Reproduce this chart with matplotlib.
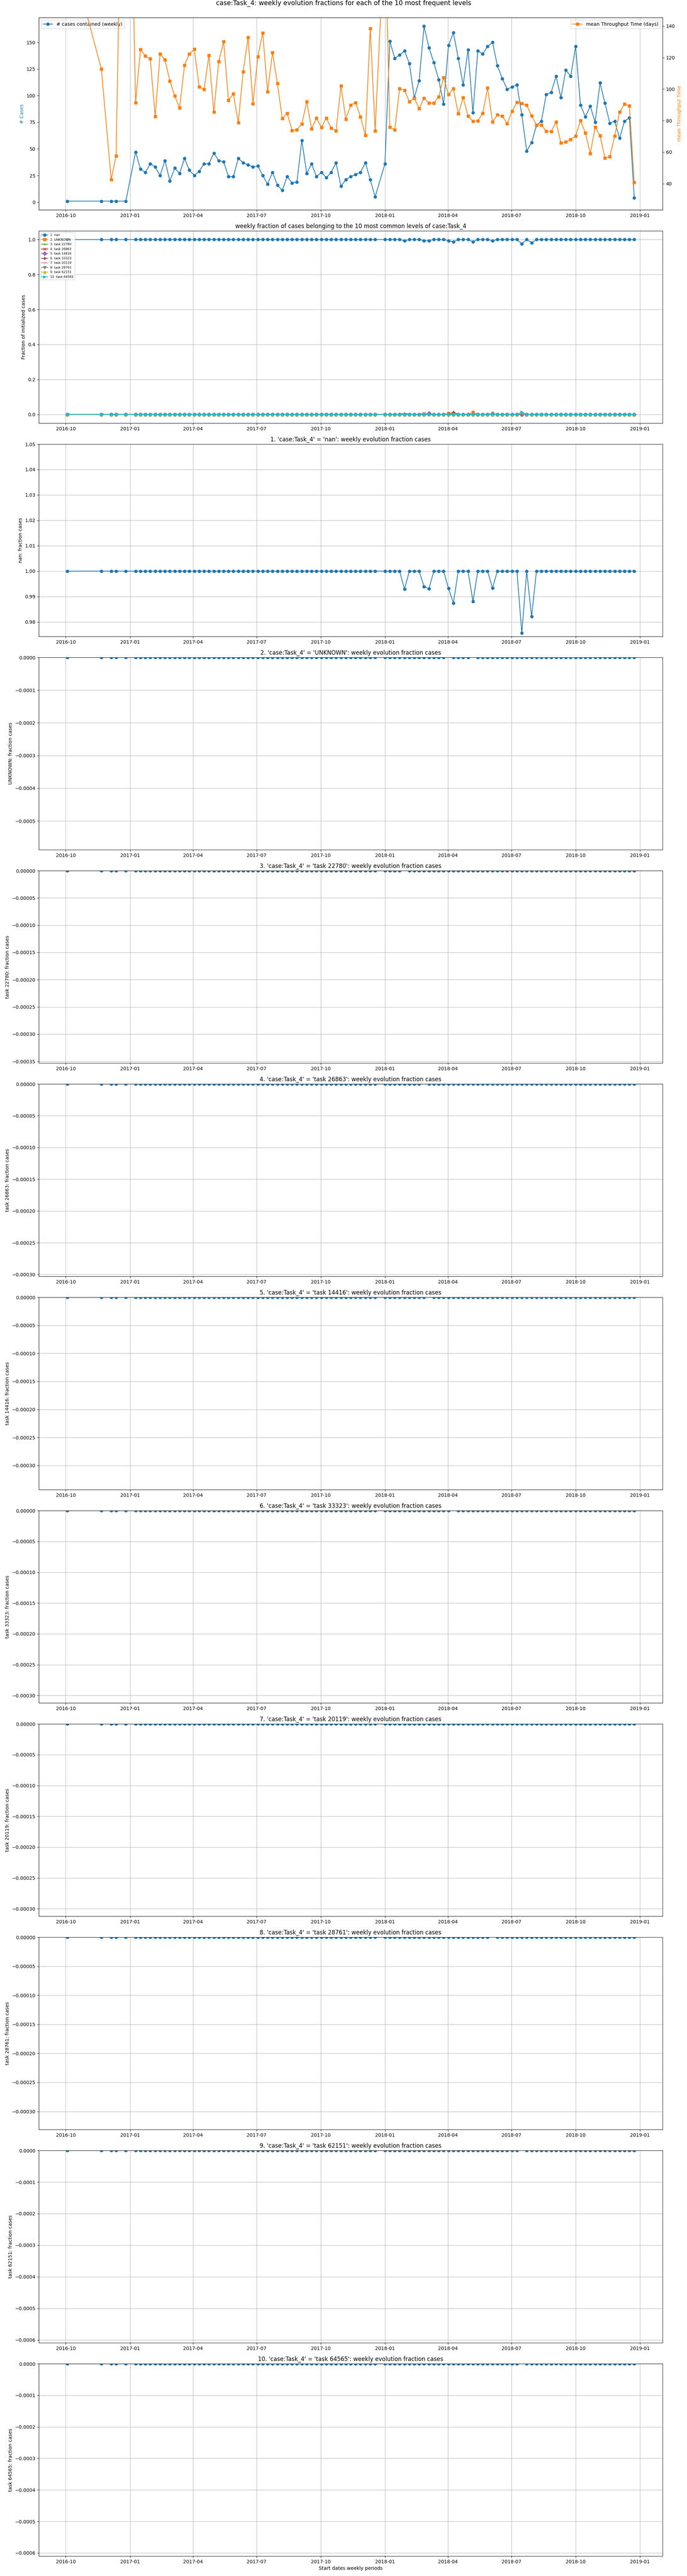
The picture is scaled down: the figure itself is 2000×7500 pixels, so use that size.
import matplotlib
matplotlib.use("Agg")
import matplotlib.pyplot as plt
import matplotlib.dates as mdates
import pandas as pd
import numpy as np

# ---------------- data ----------------
week_start = [
    "2016-10-03", "2016-11-21", "2016-12-05", "2016-12-12", "2016-12-26",
    "2017-01-09", "2017-01-16", "2017-01-23", "2017-01-30", "2017-02-06", "2017-02-13",
    "2017-02-20", "2017-02-27", "2017-03-06", "2017-03-13", "2017-03-20", "2017-03-27",
    "2017-04-03", "2017-04-10", "2017-04-17", "2017-04-24", "2017-05-01", "2017-05-08",
    "2017-05-15", "2017-05-22", "2017-05-29", "2017-06-05", "2017-06-12", "2017-06-19",
    "2017-06-26", "2017-07-03", "2017-07-10", "2017-07-17", "2017-07-24", "2017-07-31",
    "2017-08-07", "2017-08-14", "2017-08-21", "2017-08-28", "2017-09-04", "2017-09-11",
    "2017-09-18", "2017-09-25", "2017-10-02", "2017-10-09", "2017-10-16", "2017-10-23",
    "2017-10-30", "2017-11-06", "2017-11-13", "2017-11-20", "2017-11-27", "2017-12-04",
    "2017-12-11", "2017-12-18",
    "2018-01-01", "2018-01-08", "2018-01-15", "2018-01-22", "2018-01-29", "2018-02-05",
    "2018-02-12", "2018-02-19", "2018-02-26", "2018-03-05", "2018-03-12", "2018-03-19",
    "2018-03-26", "2018-04-02", "2018-04-09", "2018-04-16", "2018-04-23", "2018-04-30",
    "2018-05-07", "2018-05-14", "2018-05-21", "2018-05-28", "2018-06-04", "2018-06-11",
    "2018-06-18", "2018-06-25", "2018-07-02", "2018-07-09", "2018-07-16", "2018-07-23",
    "2018-07-30", "2018-08-06", "2018-08-13", "2018-08-20", "2018-08-27", "2018-09-03",
    "2018-09-10", "2018-09-17", "2018-09-24", "2018-10-01", "2018-10-08", "2018-10-15",
    "2018-10-22", "2018-10-29", "2018-11-05", "2018-11-12", "2018-11-19", "2018-11-26",
    "2018-12-03", "2018-12-10", "2018-12-17", "2018-12-24",
]

cases_weekly = [
    1, 1, 1, 1, 1,
    47, 31, 28, 36, 33, 25, 39, 20, 32, 27,
    41, 30, 25, 29, 36, 36, 46, 39, 38, 24,
    24, 41, 37, 35, 33, 34, 25, 17, 28, 16,
    11, 24, 18, 19, 58, 27, 36, 24, 28, 23,
    28, 37, 15, 21, 24, 26, 28, 37, 21, 5,
    36,
    151, 135, 138, 142, 130, 98, 114, 165, 145, 131,
    115, 92, 147, 159, 135, 110, 143, 84, 142, 139,
    146, 150, 128, 116, 106, 108, 110, 82, 48, 56,
    72, 76, 101, 103, 118, 98, 124, 118, 146, 91,
    80, 90, 75, 112, 93, 74, 76, 60, 76, 79,
    4,
]

mean_tt_days = [
    194, 112.7, 42.6, 57.5, 390,
    91.4, 125.1, 121.0, 119.2, 82.6, 122.3, 118.7, 105.2, 95.7, 88.1,
    115.1, 122.3, 125.3, 101.4, 99.8, 121.4, 85.4, 117.6, 130.1, 92.9,
    97.0, 78.7, 111.0, 132.7, 90.7, 120.5, 135.6, 98.3, 123.2, 103.6,
    81.3, 84.7, 73.8, 74.2, 77.8, 92.1, 74.8, 81.6, 75.7, 81.6,
    75.3, 73.6, 102.0, 81.0, 89.9, 91.4, 82.5, 70.7, 138.4, 73.6,
    205,
    75.8, 74.1, 100.3, 99.3, 92.0, 94.3, 87.7, 94.2, 91.1, 91.1,
    95.1, 107.2, 96.6, 100.3, 84.3, 94.6, 82.9, 79.5, 79.8, 84.6,
    100.7, 79.1, 83.7, 82.9, 78.1, 85.9, 91.6, 90.9, 89.8, 83.0,
    77.2, 77.2, 73.3, 73.1, 79.1, 65.9, 66.5, 68.1, 70.2, 80.0,
    72.2, 59.2, 75.8, 70.5, 56.2, 57.1, 70.2, 85.4, 90.4, 89.4,
    40.8,
]

levels = ["nan", "UNKNOWN", "task 22780", "task 26863", "task 14416",
          "task 33323", "task 20119", "task 28761", "task 62151", "task 64565"]

# weeks in which some cases did NOT have level 'nan' (number of such cases)
non_nan_cases = {
    "2018-01-29": 1, "2018-02-26": 1, "2018-03-05": 1, "2018-04-02": 1,
    "2018-04-09": 2, "2018-05-07": 1, "2018-06-04": 1, "2018-07-16": 2,
    "2018-07-30": 1,
}

# cases per level (other than nan) in the weeks they occur
level_cases = {
    "UNKNOWN": {"2018-04-02": 1, "2018-05-07": 1},
    "task 22780": {"2018-01-29": 1},
    "task 26863": {"2018-02-26": 1},
    "task 14416": {"2018-03-05": 1},
    "task 33323": {"2018-04-09": 2},
    "task 20119": {},
    "task 28761": {"2018-06-04": 1},
    "task 62151": {"2018-07-16": 1},
    "task 64565": {"2018-07-16": 1},
}

# y-limits of the per-level panels (as shown in the original)
panel_ylims = [(0.9743, 1.05), (-0.000588, 0.0), (-0.000353, 0.0), (-0.000303, 0.0),
               (-0.000343, 0.0), (-0.000312, 0.0), (-0.000312, 0.0), (-0.000331, 0.0),
               (-0.000609, 0.0), (-0.00061, 0.0)]

# ---------------- derived ----------------
dates = pd.to_datetime(week_start)
cases = np.array(cases_weekly, dtype=float)
fractions = {}
fractions["nan"] = np.array([1.0 - non_nan_cases.get(d, 0) / c for d, c in zip(week_start, cases)])
for lv in levels[1:]:
    fractions[lv] = np.array([level_cases[lv].get(d, 0) / c for d, c in zip(week_start, cases)])

# ---------------- figure ----------------
plt.rcParams["font.family"] = ["DejaVu Sans"]
fig, axes = plt.subplots(12, 1, figsize=(20, 75), dpi=100)
fig.subplots_adjust(left=0.0565, right=0.9645, top=0.9932, bottom=0.00773, hspace=0.109)

loc = mdates.MonthLocator(bymonth=[1, 4, 7, 10])
fmt = mdates.DateFormatter("%Y-%m")

fig.suptitle("case:Task_4: weekly evolution fractions for each of the 10 most frequent levels",
             fontsize=13.5, y=0.99995, va="top")

# top: cases and throughput
ax = axes[0]
ax.plot(dates, cases, marker="o", color="C0", label="# cases contained (weekly)")
ax.set_ylabel("# Cases", color="C0")
ax.grid(True, axis="x")
ax.legend(loc="upper left")
ax2 = ax.twinx()
ax2.plot(dates, mean_tt_days, marker="s", color="C1", label="mean Throughput Time (days)")
ax2.set_ylabel("mean Throughput Time", color="C1")
ax2.set_ylim(23.4, 145.4)
ax2.legend(loc="upper right")
ax.xaxis.set_major_locator(loc)
ax.xaxis.set_major_formatter(fmt)

# fraction chart
markers = ["o", "s", "+", "x", "D", "P", "1", "v", "^", ">"]
axf = axes[1]
for i, lv in enumerate(levels):
    axf.plot(dates, fractions[lv], marker=markers[i], label=f"{i + 1}. {lv}")
axf.set_title("weekly fraction of cases belonging to the 10 most common levels of case:Task_4")
axf.set_ylabel("Fraction of initialized cases")
axf.grid(True)
axf.legend(loc="upper left", fontsize=6.5)
axf.xaxis.set_major_locator(loc)
axf.xaxis.set_major_formatter(fmt)

# per-level panels
for i, lv in enumerate(levels):
    a = axes[i + 2]
    a.plot(dates, fractions[lv], marker="o", color="C0")
    a.set_title(f"{i + 1}. 'case:Task_4' = '{lv}': weekly evolution fraction cases")
    a.set_ylabel(f"{lv}: fraction cases")
    a.set_ylim(*panel_ylims[i])
    a.grid(True)
    a.xaxis.set_major_locator(loc)
    a.xaxis.set_major_formatter(fmt)

axes[-1].set_xlabel("Start dates weekly periods")

fig.savefig("out.png", dpi=100)
